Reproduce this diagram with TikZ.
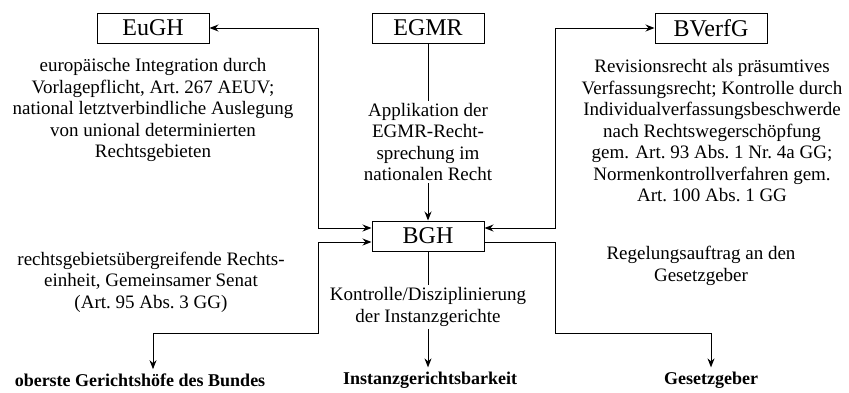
\documentclass[tikz,border=0pt]{standalone}
\usepackage{fontspec}
\setmainfont{Liberation Serif}
\usetikzlibrary{arrows.meta}

\begin{document}
\begin{tikzpicture}[x=0.5pt,y=-0.5pt,
  court/.style={draw,line width=0.5pt,minimum width=56pt,minimum height=15pt,inner sep=0pt,font=\fontsize{12}{14}\selectfont},
  txt/.style={align=center,inner sep=1pt,font=\fontsize{9.5}{10.75}\selectfont},
  goal/.style={inner sep=2pt,font=\fontsize{9}{11}\selectfont\bfseries},
  link/.style={line width=0.5pt,>={Stealth[length=4.5pt,width=3.5pt]}}]
\useasboundingbox (0,0) rectangle (849,392);
\node[court] (eugh) at (153,28) {EuGH};
\node[court] (egmr) at (428,28) {EGMR};
\node[court] (bverfg) at (711,28) {BVerfG};
\node[court] (bgh) at (428,236) {BGH};
\node[txt] (europa) at (153,110) {europäische Integration durch\\Vorlagepflicht, Art.~267 AEUV;\\national letztverbindliche Auslegung\\von unional determinierten\\Rechtsgebieten};
\node[txt] (applikation) at (428,142) {Applikation der\\EGMR-Recht-\\sprechung im\\nationalen Recht};
\node[txt] (revision) at (712,131) {Revisionsrecht als präsumtives\\Verfassungsrecht; Kontrolle durch\\Individualverfassungsbeschwerde\\nach Rechtswegerschöpfung\\gem. Art.~93 Abs.~1 Nr.~4a GG;\\Normenkontrollverfahren gem.\\Art.~100 Abs.~1 GG};
\node[txt] (einheit) at (151,282) {rechtsgebietsübergreifende Rechts-\\einheit, Gemeinsamer Senat\\(Art.~95 Abs.~3 GG)};
\node[txt] (auftrag) at (701,266) {Regelungsauftrag an den\\Gesetzgeber};
\node[txt] (kontrolle) at (428,307) {Kontrolle/Disziplinierung\\der Instanzgerichte};
\node[goal] (oberste) at (140,380) {oberste Gerichtshöfe des Bundes};
\node[goal] (instanz) at (430,380) {Instanzgerichtsbarkeit};
\node[goal] (gesetzgeber) at (711,380) {Gesetzgeber};
\coordinate (ul) at (318,228);
\coordinate (ll) at (318,242);
\coordinate (lk) at (318,333);
\coordinate (ur) at (555,228);
\coordinate (rl) at (555,242);
\coordinate (rk) at (555,333);
\draw[link,<->] (eugh.east) -| (ul) -- (bgh.west |- ul);
\draw[link,<->] (bverfg.west) -| (ur) -- (bgh.east |- ur);
\draw[link] (egmr) -- (applikation);
\draw[link,->] (applikation) -- (bgh);
\draw[link,<->] (bgh.west |- ll) -- (ll) -- (lk) -| ([xshift=6.5pt]oberste.north);
\draw[link,->] (bgh.east |- rl) -- (rl) -- (rk) -| (gesetzgeber.north);
\draw[link] (bgh) -- (kontrolle);
\draw[link,->] (kontrolle) -- (kontrolle |- instanz.north);
\end{tikzpicture}
\end{document}
